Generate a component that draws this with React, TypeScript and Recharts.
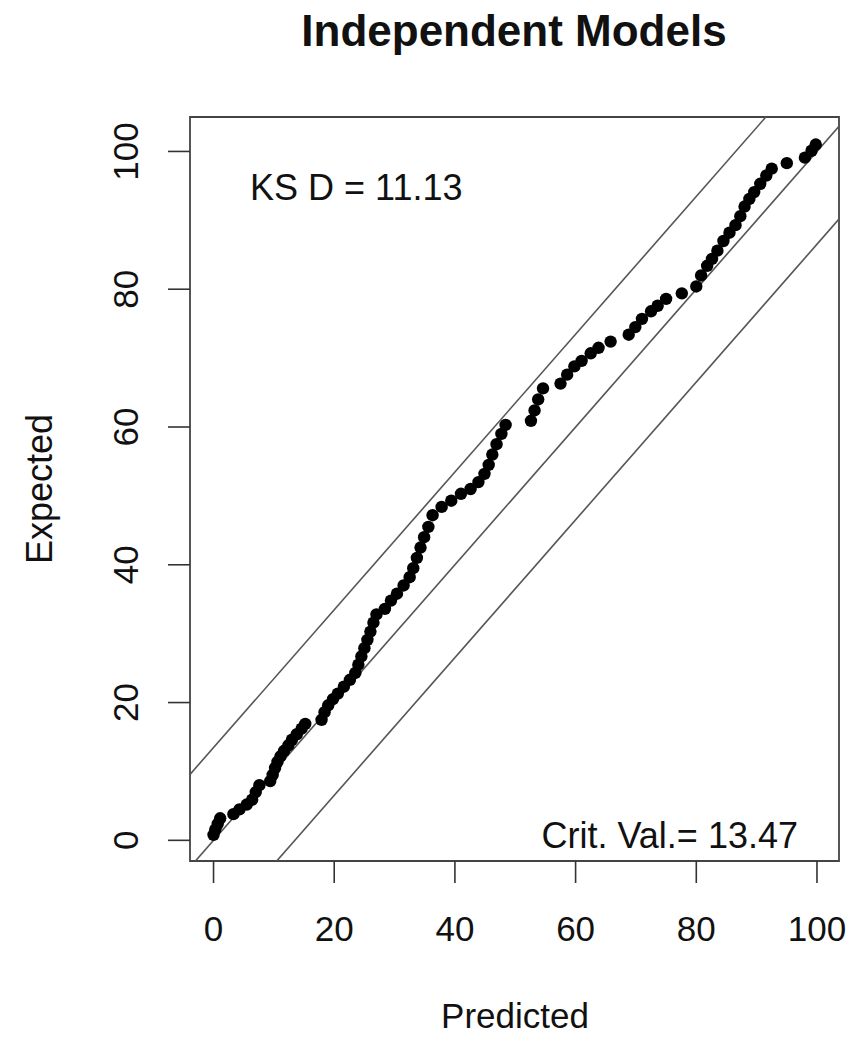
import React from 'react';
import { ComposedChart, Scatter, XAxis, YAxis, ReferenceLine, ReferenceArea } from 'recharts';

// quantile pairs
const predicted = [
  0.0, 0.3, 0.7, 1.1, 3.3, 4.3, 5.5, 6.4, 7.0, 7.6,
  9.4, 9.8, 10.2, 10.6, 11.1, 11.7, 12.4, 13.0, 13.8, 14.6,
  15.2, 17.9, 18.4, 19.0, 19.8, 20.6, 21.6, 22.6, 23.5, 24.0,
  24.5, 25.0, 25.5, 26.0, 26.5, 27.0, 28.4, 29.4, 30.4, 31.5,
  32.5, 33.1, 33.7, 34.3, 34.9, 35.6, 36.3, 37.8, 39.4, 41.0,
  42.6, 43.9, 44.9, 45.6, 46.2, 46.9, 47.7, 48.4, 52.6, 53.2,
  53.8, 54.6, 57.5, 58.6, 59.8, 61.0, 62.5, 63.8, 65.8, 68.8,
  69.9, 71.0, 72.5, 73.6, 75.0, 77.6, 80.0, 80.8, 81.8, 82.6,
  83.5, 84.5, 85.5, 86.5, 87.3, 88.0, 88.8, 89.6, 90.6, 91.6,
  92.5, 95.0, 98.0, 99.1, 99.8,
];
const expected = [
  0.8, 1.6, 2.4, 3.2, 3.8, 4.5, 5.2, 5.9, 7.0, 8.0,
  8.6, 9.5, 10.5, 11.4, 12.2, 13.0, 13.8, 14.6, 15.4, 16.2,
  16.9, 17.5, 18.6, 19.6, 20.5, 21.3, 22.3, 23.3, 24.3, 25.5,
  26.7, 27.9, 29.1, 30.3, 31.6, 32.8, 33.6, 34.8, 35.8, 37.0,
  38.2, 39.5, 41.0, 42.5, 44.0, 45.5, 47.2, 48.4, 49.3, 50.3,
  51.0, 52.0, 53.2, 54.5, 56.0, 57.5, 59.0, 60.3, 60.9, 62.4,
  64.0, 65.6, 66.3, 67.6, 68.8, 69.6, 70.7, 71.5, 72.4, 73.4,
  74.5, 75.7, 76.8, 77.6, 78.6, 79.4, 80.4, 82.0, 83.4, 84.4,
  85.6, 87.0, 88.2, 89.3, 90.6, 92.0, 93.1, 94.1, 95.3, 96.5,
  97.5, 98.3, 99.1, 100.1, 101.0,
];

const ticks = [0, 20, 40, 60, 80, 100];
const critVal = 13.47;
const ksD = 11.13;
const bandOffsets = [critVal, 0, -critVal];

const X_DOMAIN: [number, number] = [-3.9, 103.65];
const Y_DOMAIN: [number, number] = [-3, 105];

const points = predicted.map((p, i) => ({ x: p, y: expected[i] }));

const FONT = '"Liberation Sans", Arial, Helvetica, sans-serif';
const INK = '#111';

const Dot = (props: any) => <circle cx={props.cx} cy={props.cy} r={6.2} fill="#000" />;

const XTick = ({ x, y, payload }: any) => (
  <text x={x} y={y} textAnchor="middle" fontSize={35} fontFamily={FONT} fill={INK}>
    {payload.value}
  </text>
);

const YTick = ({ x, y, payload }: any) => (
  <text
    x={x}
    y={y}
    transform={`rotate(-90, ${x}, ${y})`}
    textAnchor="middle"
    fontSize={35}
    fontFamily={FONT}
    fill={INK}
  >
    {payload.value}
  </text>
);

export default function App() {
  return (
    <div style={{ position: 'absolute', left: 0, top: 0, width: 857, height: 1037, background: '#fff' }}>
      <ComposedChart
        width={857}
        height={1037}
        data={points}
        margin={{ top: 117, right: 18, left: 110, bottom: 106 }}
      >
        <XAxis
          type="number"
          dataKey="x"
          domain={X_DOMAIN}
          allowDataOverflow
          ticks={ticks}
          interval={0}
          axisLine={false}
          tickSize={22}
          tickMargin={58}
          tickLine={{ stroke: '#333', strokeWidth: 1.6 }}
          tick={<XTick />}
          height={70}
        />
        <YAxis
          type="number"
          dataKey="y"
          domain={Y_DOMAIN}
          allowDataOverflow
          ticks={ticks}
          interval={0}
          axisLine={false}
          tickSize={22}
          tickMargin={30}
          tickLine={{ stroke: '#333', strokeWidth: 1.6 }}
          tick={<YTick />}
          width={80}
        />
        {bandOffsets.map((c) => (
          <ReferenceLine
            key={c}
            segment={[
              { x: X_DOMAIN[0], y: X_DOMAIN[0] + c },
              { x: X_DOMAIN[1], y: X_DOMAIN[1] + c },
            ]}
            stroke="#555"
            strokeWidth={1.6}
            ifOverflow="hidden"
          />
        ))}
        <ReferenceArea
          x1={X_DOMAIN[0]}
          x2={X_DOMAIN[1]}
          y1={Y_DOMAIN[0]}
          y2={Y_DOMAIN[1]}
          fill="none"
          stroke="#444"
          strokeWidth={1.8}
          ifOverflow="visible"
        />
        <Scatter dataKey="y" shape={Dot} isAnimationActive={false} />
      </ComposedChart>
      <svg
        width={857}
        height={1037}
        style={{ position: 'absolute', left: 0, top: 0, pointerEvents: 'none' }}
        fontFamily={FONT}
        fill={INK}
      >
        <text x={514} y={46} textAnchor="middle" fontSize={44} fontWeight="bold">
          Independent Models
        </text>
        <text x={250} y={200} fontSize={36}>
          KS D = {ksD.toFixed(2)}
        </text>
        <text x={798} y={848} textAnchor="end" fontSize={36}>
          Crit. Val.= {critVal.toFixed(2)}
        </text>
        <text x={515} y={1028} textAnchor="middle" fontSize={35}>
          Predicted
        </text>
        <text x={52} y={489} textAnchor="middle" fontSize={36} transform="rotate(-90, 52, 489)">
          Expected
        </text>
      </svg>
    </div>
  );
}
